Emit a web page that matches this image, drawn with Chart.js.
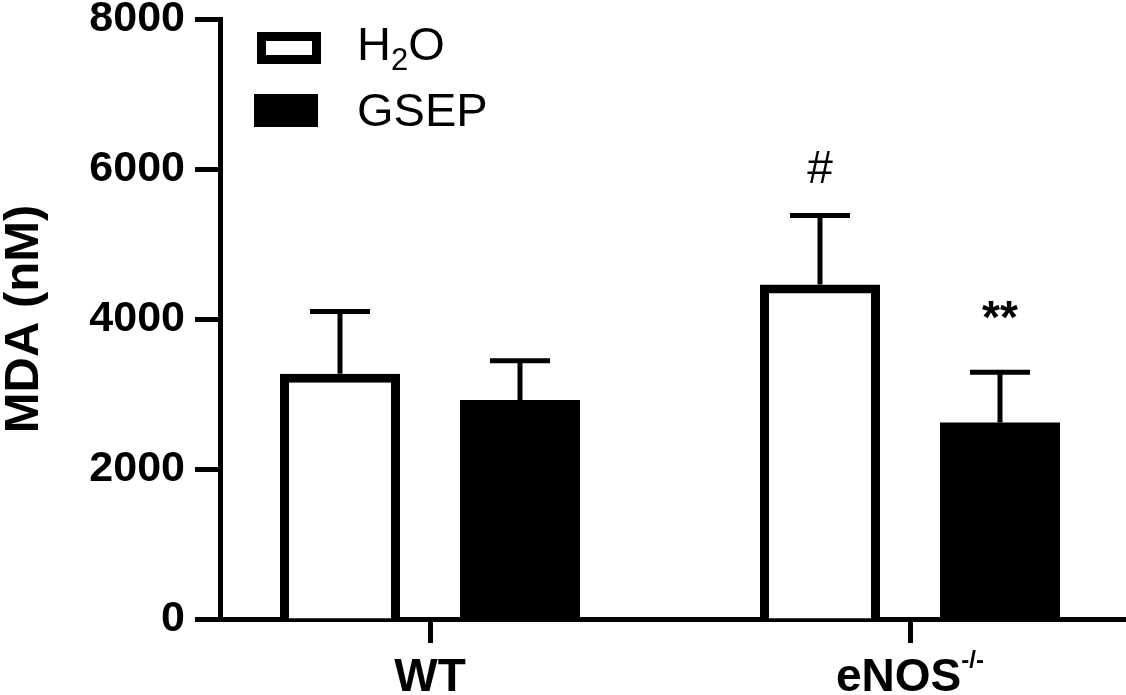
<!DOCTYPE html>
<html>
<head>
<meta charset="utf-8">
<script src="https://cdn.jsdelivr.net/npm/chart.js@4.4.1/dist/chart.umd.min.js"></script>
<style>
  html, body { margin: 0; padding: 0; background: #fff; overflow: hidden; }
  canvas { display: block; }
</style>
</head>
<body>
<canvas id="mdaChart" width="1126" height="695"></canvas>
<script>
const groups = ["WT", "eNOS"];
const groupSup = ["", "-/-"];
const seriesNames = ["H2O", "GSEP"];
const h2oMean = [3270, 4460];
const h2oSD = [830, 920];
const gsepMean = [2920, 2620];
const gsepSD = [525, 670];
const h2oMarks = ["", "#"];
const gsepMarks = ["", "**"];
const yTicks = [0, 2000, 4000, 6000, 8000];

const FONT = "'Liberation Sans', Arial, sans-serif";

// category range so groups sit where the original puts them
const X_START = -0.4375;
const X_RANGE = 1.8875;

const extras = {
  id: "extras",
  afterDatasetsDraw(chart) {
    const ctx = chart.ctx;
    const y = chart.scales.y;
    ctx.save();
    ctx.strokeStyle = "#000";
    ctx.fillStyle = "#000";
    ctx.lineWidth = 5;
    chart.data.datasets.forEach((ds, di) => {
      const meta = chart.getDatasetMeta(di);
      meta.data.forEach((bar, i) => {
        const top = y.getPixelForValue(ds.data[i] + ds.sd[i]);
        ctx.beginPath();
        ctx.moveTo(bar.x, bar.y);
        ctx.lineTo(bar.x, top);
        ctx.moveTo(bar.x - 30, top);
        ctx.lineTo(bar.x + 30, top);
        ctx.stroke();
        const mark = ds.marks[i];
        if (mark) {
          const bold = mark.indexOf("*") >= 0;
          ctx.font = (bold ? "bold " : "") + "46px " + FONT;
          ctx.textAlign = "center";
          ctx.textBaseline = "alphabetic";
          ctx.fillText(mark, bar.x, top - (bold ? 39 : 33));
        }
      });
    });
    ctx.restore();
  },
  afterDraw(chart) {
    const ctx = chart.ctx;
    const x = chart.scales.x;
    ctx.save();
    ctx.fillStyle = "#000";
    ctx.textBaseline = "alphabetic";
    ctx.textAlign = "left";

    // category labels with superscripts
    const base = chart.chartArea.bottom + 72;
    groups.forEach((g, i) => {
      const cx = x.getPixelForTick(i);
      ctx.font = "bold 46px " + FONT;
      const wb = ctx.measureText(g).width;
      ctx.font = "bold 24px " + FONT;
      const ws = groupSup[i] ? ctx.measureText(groupSup[i]).width : 0;
      const sx = cx - (wb + ws) / 2;
      ctx.font = "bold 46px " + FONT;
      ctx.fillText(g, sx, base);
      if (groupSup[i]) {
        ctx.font = "bold 24px " + FONT;
        ctx.fillText(groupSup[i], sx + wb, base - 23);
      }
    });

    // legend
    chart.data.datasets.forEach((ds, di) => {
      const top = 32 + di * 62;
      if (ds.borderWidth > 0) {
        ctx.lineWidth = 9;
        ctx.strokeStyle = "#000";
        ctx.strokeRect(257 + 4.5, top + 4.5, 64 - 9, 32 - 9);
      } else {
        ctx.fillRect(254, top, 64, 33);
      }
      let tx = 357;
      const baseline = 60 + di * 66;
      for (const ch of ds.label) {
        if (/[0-9]/.test(ch)) {
          ctx.font = "31px " + FONT;
          ctx.fillText(ch, tx, baseline + 10);
        } else {
          ctx.font = "47px " + FONT;
          ctx.fillText(ch, tx, baseline);
        }
        tx += ctx.measureText(ch).width;
      }
    });
    ctx.restore();
  }
};

const ctx = document.getElementById("mdaChart");
new Chart(ctx, {
  type: "bar",
  data: {
    labels: groups,
    datasets: [
      {
        label: seriesNames[0],
        data: h2oMean,
        sd: h2oSD,
        marks: h2oMarks,
        backgroundColor: "#fff",
        borderColor: "#000",
        borderWidth: 9,
        categoryPercentage: 0.75,
        barPercentage: 0.6667,
      },
      {
        label: seriesNames[1],
        data: gsepMean,
        sd: gsepSD,
        marks: gsepMarks,
        backgroundColor: "#000",
        borderWidth: 0,
        categoryPercentage: 0.75,
        barPercentage: 0.6667,
      },
    ],
  },
  options: {
    responsive: false,
    devicePixelRatio: 1,
    animation: false,
    layout: { padding: { top: 19, right: 0, bottom: 0, left: 0 } },
    plugins: {
      legend: { display: false },
      tooltip: { enabled: false },
    },
    scales: {
      x: {
        offset: true,
        grid: {
          offset: false,
          drawOnChartArea: false,
          drawTicks: true,
          tickLength: 24,
          tickWidth: 5,
          tickColor: "#000",
        },
        border: { display: true, color: "#000", width: 5 },
        ticks: { display: false },
        afterBuildTicks(scale) {
          scale._startValue = X_START;
          scale._valueRange = X_RANGE;
        },
        afterFit(scale) {
          scale.height = 76;
          scale.paddingLeft = 0;
          scale.paddingRight = 0;
        },
      },
      y: {
        min: 0,
        max: 8000,
        afterBuildTicks(scale) {
          scale.ticks = yTicks.map((v) => ({ value: v }));
        },
        grid: {
          drawOnChartArea: false,
          tickLength: 25,
          tickWidth: 5,
          tickColor: "#000",
        },
        border: { display: true, color: "#000", width: 5 },
        ticks: {
          color: "#000",
          padding: 10,
          font: { family: FONT, size: 43, weight: "bold", lineHeight: 1 },
          callback: (v) => String(v),
        },
        title: {
          display: true,
          text: "MDA (nM)",
          color: "#000",
          padding: 0,
          font: { family: FONT, size: 49, weight: "bold", lineHeight: 1 },
        },
        afterFit(scale) {
          scale.width = 220;
          scale.paddingTop = 0;
          scale.paddingBottom = 0;
        },
      },
    },
  },
  plugins: [extras],
});
</script>
</body>
</html>
